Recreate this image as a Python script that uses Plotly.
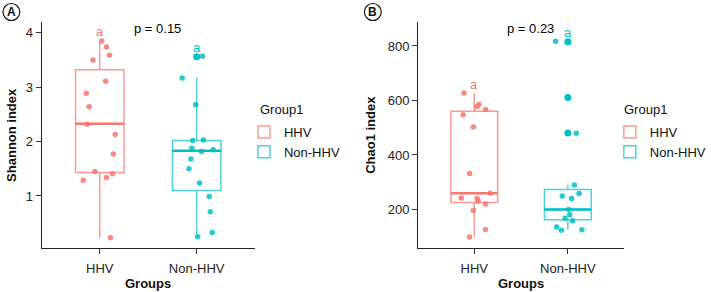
import plotly.graph_objects as go

# ---------------- data ----------------
groups = ["HHV", "Non-HHV"]
group_pos = [1, 2]

# Panel A: Shannon index (jittered sample points)
shannon_hhv = [3.85, 3.74, 3.59, 3.50, 3.11, 2.89, 2.64, 2.32, 2.13, 1.77, 1.45, 1.29, 1.34, 1.41, 0.23]
shannon_hhv_jitter = [0.02, 0.07, 0.10, -0.07, 0.06, -0.14, -0.11, -0.13, 0.16, 0.14, -0.05, -0.17, 0.07, 0.13, 0.11]
shannon_non = [3.57, 3.56, 3.17, 2.68, 2.02, 2.03, 1.88, 1.85, 1.82, 1.68, 1.50, 1.24, 0.99, 0.71, 0.33, 0.25]
shannon_non_jitter = [0.06, 0.0, -0.15, -0.01, -0.04, 0.07, -0.05, 0.17, 0.05, -0.06, -0.08, 0.03, 0.13, 0.14, 0.16, 0.01]
# box summaries [HHV, Non-HHV]
shannon_q1 = [1.43, 1.10]
shannon_median = [2.33, 1.83]
shannon_q3 = [3.32, 2.02]
shannon_low = [0.23, 0.25]
shannon_high = [3.85, 3.18]
shannon_outliers_non = [3.56]
shannon_p = "p = 0.15"

# Panel B: Chao1 index
chao_hhv = [627, 585, 579, 567, 548, 503, 332, 260, 242, 240, 232, 220, 196, 127, 99]
chao_hhv_jitter = [-0.11, 0.05, 0.03, 0.12, -0.12, -0.01, -0.05, 0.17, -0.14, 0.03, 0.04, 0.12, -0.01, 0.12, -0.05]
chao_non = [817, 815, 611, 481, 480, 290, 259, 250, 240, 200, 181, 168, 159, 136, 126, 124]
chao_non_jitter = [-0.13, 0.0, 0.0, 0.0, 0.09, 0.07, 0.12, -0.06, 0.04, 0.01, 0.02, -0.03, 0.05, -0.12, 0.15, -0.07]
chao_q1 = [226, 162]
chao_median = [260, 200]
chao_q3 = [560, 273]
chao_low = [101, 126]
chao_high = [627, 291]
chao_outliers_non = [815, 611, 481]
chao_p = "p = 0.23"

sig_letters = ["a", "a"]
legend_title = "Group1"

# ---------------- styling ----------------
RED = "#F8766D"
TEAL = "#00BFC4"
cols = [RED, TEAL]
box_cols = ["rgba(248,118,109,0.75)", "rgba(0,191,196,0.7)"]
pt_cols = ["rgba(248,118,109,0.85)", "rgba(0,191,196,0.85)"]
FONT = "Liberation Sans, Arial, sans-serif"
W, H = 711, 292

def px_x(p):
    return p / W

def px_y(p):
    return 1 - p / H

fig = go.Figure()

panels = [
    dict(xa="x", ya="y", leg="legend",
         pts=[(shannon_hhv, shannon_hhv_jitter), (shannon_non, shannon_non_jitter)],
         q1=shannon_q1, med=shannon_median, q3=shannon_q3, lo=shannon_low, hi=shannon_high,
         outl=[[], shannon_outliers_non], p=shannon_p, yr=[0.043, 4.2]),
    dict(xa="x2", ya="y2", leg="legend2",
         pts=[(chao_hhv, chao_hhv_jitter), (chao_non, chao_non_jitter)],
         q1=chao_q1, med=chao_median, q3=chao_q3, lo=chao_low, hi=chao_high,
         outl=[[], chao_outliers_non], p=chao_p, yr=[58.8, 887.8]),
]

annotations = []
for pi, pn in enumerate(panels):
    for gi in range(2):
        fig.add_trace(go.Box(
            x=[group_pos[gi]], q1=[pn["q1"][gi]], median=[pn["med"][gi]], q3=[pn["q3"][gi]],
            lowerfence=[pn["lo"][gi]], upperfence=[pn["hi"][gi]],
            width=0.5, whiskerwidth=0, boxpoints=False,
            line=dict(color=box_cols[gi], width=1.5), fillcolor="rgba(255,255,255,0)",
            name=groups[gi], legend=pn["leg"], showlegend=True,
            xaxis=pn["xa"], yaxis=pn["ya"], hoverinfo="skip",
        ))
        # thicker, solid median bar (zero-height box at the median)
        m = pn["med"][gi]
        fig.add_trace(go.Box(
            x=[group_pos[gi]], q1=[m], median=[m], q3=[m], lowerfence=[m], upperfence=[m],
            width=0.5, whiskerwidth=0, boxpoints=False,
            line=dict(color=cols[gi], width=2.5), fillcolor="rgba(255,255,255,0)",
            showlegend=False, xaxis=pn["xa"], yaxis=pn["ya"], hoverinfo="skip",
        ))
        vals, jit = pn["pts"][gi]
        fig.add_trace(go.Scatter(
            x=[group_pos[gi] + j for j in jit], y=vals, mode="markers",
            marker=dict(color=pt_cols[gi], size=5.5, line=dict(width=0)),
            showlegend=False, xaxis=pn["xa"], yaxis=pn["ya"], hoverinfo="skip",
        ))
        if pn["outl"][gi]:
            fig.add_trace(go.Scatter(
                x=[group_pos[gi]] * len(pn["outl"][gi]), y=pn["outl"][gi], mode="markers",
                marker=dict(color=cols[gi], size=7, line=dict(width=0)),
                showlegend=False, xaxis=pn["xa"], yaxis=pn["ya"], hoverinfo="skip",
            ))
        # significance letter above max
        rng = pn["yr"][1] - pn["yr"][0]
        ymax = max(vals + pn["outl"][gi] + [pn["hi"][gi]])
        annotations.append(dict(
            x=group_pos[gi], y=ymax + 0.04 * rng, xref=pn["xa"], yref=pn["ya"],
            xanchor="center", yanchor="middle",
            text=sig_letters[gi], showarrow=False, font=dict(color=cols[gi], size=13, family=FONT),
        ))
    annotations.append(dict(
        x=1.6, y=pn["yr"][1] - 0.03 * (pn["yr"][1] - pn["yr"][0]), xref=pn["xa"], yref=pn["ya"],
        xanchor="center", yanchor="middle",
        text=pn["p"], showarrow=False, font=dict(color="black", size=13, family=FONT),
    ))

axis_common = dict(
    showline=True, linecolor="#222222", linewidth=1, ticks="outside", ticklen=5,
    tickcolor="#333333", tickwidth=1, showgrid=False, zeroline=False,
    tickfont=dict(size=13, color="#222222", family=FONT),
)

fig.update_layout(
    width=W, height=H, margin=dict(l=0, r=0, t=0, b=0),
    plot_bgcolor="white", paper_bgcolor="white",
    font=dict(family=FONT, size=13, color="#111111"),
    xaxis=dict(domain=[px_x(42), px_x(257)], range=[0.4, 2.6], tickvals=group_pos, ticktext=groups,
               anchor="y", ticklabelstandoff=3, **axis_common),
    yaxis=dict(domain=[px_y(248), px_y(22)], range=panels[0]["yr"], tickvals=[1, 2, 3, 4],
               anchor="x", **axis_common),
    xaxis2=dict(domain=[px_x(421.7), px_x(629.3)], range=[0.4, 2.6], tickvals=group_pos, ticktext=groups,
                anchor="y2", ticklabelstandoff=3, **axis_common),
    yaxis2=dict(domain=[px_y(248), px_y(22)], range=panels[1]["yr"], tickvals=[200, 400, 600, 800],
                anchor="x2", **axis_common),
    legend=dict(x=px_x(246), y=px_y(117), xanchor="left", yanchor="top", bgcolor="rgba(0,0,0,0)",
                font=dict(size=13), tracegroupgap=0),
    legend2=dict(x=px_x(615), y=px_y(117), xanchor="left", yanchor="top", bgcolor="rgba(0,0,0,0)",
                 font=dict(size=13), tracegroupgap=0),
    boxmode="overlay",
)

txt = dict(size=13, family=FONT, color="#111111")
annotations += [
    dict(x=px_x(260), y=px_y(110), xref="paper", yref="paper", text=legend_title, showarrow=False,
         xanchor="left", yanchor="middle", font=txt),
    dict(x=px_x(627), y=px_y(110), xref="paper", yref="paper", text=legend_title, showarrow=False,
         xanchor="left", yanchor="middle", font=txt),
    dict(x=px_x(149.5), y=px_y(283), xref="paper", yref="paper", text="<b>Groups</b>", showarrow=False,
         xanchor="center", yanchor="middle", font=txt),
    dict(x=px_x(525.5), y=px_y(283), xref="paper", yref="paper", text="<b>Groups</b>", showarrow=False,
         xanchor="center", yanchor="middle", font=txt),
    dict(x=px_x(11), y=px_y(135), xref="paper", yref="paper", text="<b>Shannon index</b>", showarrow=False,
         textangle=-90, xanchor="center", yanchor="middle", font=txt),
    dict(x=px_x(373), y=px_y(135), xref="paper", yref="paper", text="<b>Chao1 index</b>", showarrow=False,
         textangle=-90, xanchor="center", yanchor="middle", font=txt),
    dict(x=px_x(11.5), y=px_y(12), xref="paper", yref="paper", text="<b>A</b>", showarrow=False,
         xanchor="center", yanchor="middle", font=dict(size=12, family=FONT, color="#111111")),
    dict(x=px_x(376), y=px_y(12), xref="paper", yref="paper", text="<b>B</b>", showarrow=False,
         xanchor="center", yanchor="middle", font=dict(size=12, family=FONT, color="#111111")),
]
fig.update_layout(annotations=annotations)

fig.update_layout(shapes=[
    dict(type="circle", xref="paper", yref="paper", x0=px_x(3), x1=px_x(20), y0=px_y(20.5), y1=px_y(3.5),
         line=dict(color="#111111", width=1.2)),
    dict(type="circle", xref="paper", yref="paper", x0=px_x(367.5), x1=px_x(384.5), y0=px_y(20.5), y1=px_y(3.5),
         line=dict(color="#111111", width=1.2)),
])

fig.write_html("out.html", config={"displayModeBar": False},
               post_script="document.body.style.margin='0';document.body.style.padding='0';")
